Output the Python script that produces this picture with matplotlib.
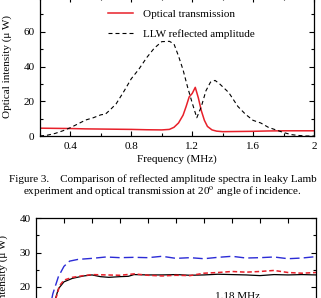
import matplotlib
matplotlib.use('Agg')
import matplotlib.pyplot as plt

# -- Fig. 3: leaky Lamb wave reflected amplitude vs optical transmission
freq_llw = [0.20, 0.25, 0.30, 0.35, 0.40, 0.45, 0.50, 0.55, 0.60, 0.63, 0.66, 0.70,
            0.75, 0.80, 0.85, 0.90, 0.95, 1.00, 1.05, 1.08, 1.11, 1.14, 1.17, 1.20,
            1.23, 1.26, 1.29, 1.32, 1.35, 1.38, 1.41, 1.44, 1.47, 1.50, 1.55, 1.60,
            1.65, 1.70, 1.75, 1.80, 1.85, 1.90, 1.95, 2.00]
llw_amp = [0.0, 0.5, 1.5, 3.0, 4.8, 7.0, 9.2, 10.5, 12.2, 12.6, 15.0, 18.5,
           25.5, 33.0, 38.5, 45.0, 50.5, 54.3, 54.5, 53.0, 46.0, 38.0, 28.0, 19.0,
           10.5, 17.0, 26.0, 31.0, 32.0, 30.0, 27.5, 25.0, 21.0, 17.0, 12.5, 9.0,
           7.5, 5.0, 3.5, 2.0, 0.8, 0.3, 0.0, 0.0]

freq_opt = [0.20, 0.30, 0.40, 0.50, 0.60, 0.70, 0.80, 0.90, 1.00, 1.05, 1.08, 1.11,
            1.14, 1.16, 1.18, 1.20, 1.22, 1.24, 1.26, 1.28, 1.30, 1.33, 1.36, 1.40,
            1.50, 1.60, 1.70, 1.80, 1.90, 2.00]
opt_trans = [4.5, 4.4, 4.3, 4.1, 4.0, 3.9, 3.8, 3.6, 3.5, 3.8, 5.0, 7.5,
             12.0, 17.0, 22.5, 24.5, 28.0, 22.0, 14.5, 9.0, 5.5, 3.5, 2.8, 2.5,
             2.6, 2.7, 2.9, 3.0, 3.0, 3.0]

top_xticks = [0.4, 0.8, 1.2, 1.6, 2.0]
top_xticklabels = ['0.4', '0.8', '1.2', '1.6', '2']

# -- Fig. 4 (partly visible): intensity over time
t_blue = [0.5, 0.6, 0.8, 1.0, 1.2, 1.5, 2.0, 2.5, 3.0, 3.5, 4.0, 4.5, 5.0,
          5.5, 6.0, 6.5, 7.0, 7.5, 8.0, 8.5, 9.0, 9.5, 10.0]
i_blue = [14.0, 18.0, 23.0, 26.0, 27.5, 28.0, 28.3, 28.7, 28.5, 28.6, 28.5, 28.9, 28.3,
          28.5, 28.2, 28.6, 28.9, 28.4, 28.5, 28.7, 28.2, 28.4, 28.8]

t_black = [0.6, 0.8, 1.0, 1.3, 1.7, 2.0, 2.3, 2.6, 3.0, 3.3, 3.5, 4.0, 4.5, 5.0,
           5.5, 6.0, 6.5, 7.0, 7.5, 8.0, 8.5, 9.0, 9.5, 10.0]
i_black = [14.0, 19.5, 21.5, 22.5, 23.2, 23.5, 23.0, 22.8, 23.0, 23.1, 23.6, 23.5, 23.5, 23.6,
           23.4, 23.5, 23.7, 23.6, 23.5, 23.3, 23.6, 23.5, 23.6, 23.5]

t_red = [0.65, 0.85, 1.0, 1.3, 1.7, 2.0, 2.5, 3.0, 3.5, 4.0, 4.5, 5.0, 5.5,
         6.0, 6.5, 7.0, 7.5, 8.0, 8.5, 9.0, 9.5, 10.0]
i_red = [15.0, 20.5, 22.0, 22.8, 23.3, 23.6, 23.5, 23.4, 23.8, 23.4, 23.2, 23.4, 23.3,
         24.0, 24.2, 24.5, 24.3, 24.5, 24.8, 24.2, 24.0, 24.2]

plt.rcParams['font.family'] = ['Liberation Serif', 'DejaVu Serif']
plt.rcParams['font.size'] = 8
plt.rcParams['mathtext.fontset'] = 'stix'

RED = '#e8202a'
BLUE = '#2b2bd6'

fig = plt.figure(figsize=(3.21, 2.98), dpi=100)


def style_axes(ax):
    for sp in ax.spines.values():
        sp.set_linewidth(0.9)
    ax.tick_params(which='both', direction='in', top=True, right=True, width=0.8, labelsize=8, pad=4)
    ax.tick_params(which='major', length=3.5)
    ax.tick_params(which='minor', length=2)


# -- Top chart
ax1 = fig.add_axes([40 / 321, (298 - 136) / 298, 274 / 321, 139 / 298])
ax1.plot(freq_opt, opt_trans, color=RED, lw=1.1, label='Optical transmission')
ax1.plot(freq_llw, llw_amp, color='black', lw=0.8, linestyle=(0, (3.6, 2.7)),
         label='LLW reflected amplitude')
ax1.set_xlim(0.2, 2.0)
ax1.set_ylim(0, 80)
ax1.set_xticks(top_xticks)
ax1.set_xticklabels(top_xticklabels)
ax1.set_xticks([0.2, 0.6, 1.0, 1.4, 1.8], minor=True)
ax1.set_yticks([0, 20, 40, 60, 80])
ax1.set_yticks([10, 30, 50, 70], minor=True)
style_axes(ax1)
ax1.set_xlabel('Frequency (MHz)', labelpad=3)
ax1.set_ylabel('Optical intensity (μ W)')
ax1.yaxis.set_label_coords(-0.104, 0.5)
ax1.legend(loc='upper left', bbox_to_anchor=(0.248, 0.91), frameon=False, borderpad=0,
           borderaxespad=0, handlelength=2.25, handletextpad=0.9, labelspacing=0.85, fontsize=8)

# -- Caption
fig.text(0.506, 0.399, 'Figure 3.    Comparison of reflected amplitude spectra in leaky Lamb',
         ha='center', va='center', fontsize=8)
fig.text(0.506, 0.359, 'experiment and optical transmission at 20$^{\\rm o}$ angle of incidence.',
         ha='center', va='center', fontsize=8)

# -- Bottom chart (cut by the page crop)
ax2 = fig.add_axes([36 / 321, 80 / 298 - 138 / 298, 280 / 321, 138 / 298])
ax2.plot(t_black, i_black, color='black', lw=0.9)
ax2.plot(t_red, i_red, color=RED, lw=1.1, linestyle=(0, (3, 1.8)))
ax2.plot(t_blue, i_blue, color=BLUE, lw=1.0, linestyle=(0, (7, 3)))
ax2.set_xlim(0, 10)
ax2.set_ylim(0, 40)
ax2.set_xticks(range(1, 10))
ax2.set_xticklabels([])
ax2.set_yticks([0, 10, 20, 30, 40])
ax2.set_yticks([5, 15, 25, 35], minor=True)
style_axes(ax2)
ax2.set_ylabel('Optical intensity (μ W)')
ax2.yaxis.set_label_coords(-0.1, 0.5)
ax2.text(7.2, 18.6, '1.18 MHz', ha='center', va='top', fontsize=8)

fig.savefig('out.png', dpi=100)
